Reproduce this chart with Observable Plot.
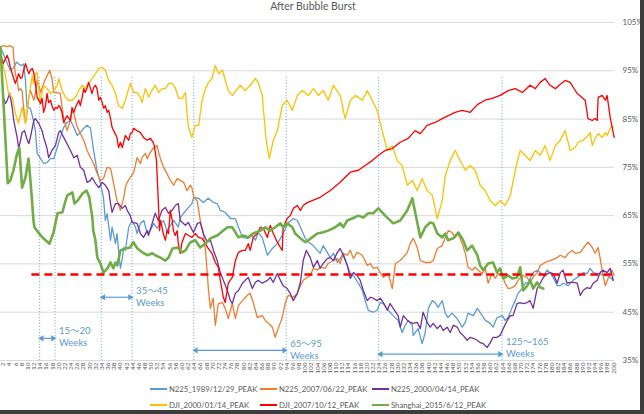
<!DOCTYPE html>
<html><head><meta charset="utf-8">
<script src="https://cdn.jsdelivr.net/npm/d3@7"></script>
<script src="https://cdn.jsdelivr.net/npm/@observablehq/plot@0.6"></script>
<style>
body{margin:0;background:#fff;}
#wrap{position:relative;width:644px;height:414px;overflow:hidden;background:#fff;font-family:Lato,"Noto Sans",sans-serif;}
#title{position:absolute;left:0;top:0;width:626px;text-align:center;font-size:10.5px;line-height:13px;color:#595959;}
#chart{position:absolute;left:0;top:14px;}
.leg{position:absolute;display:flex;align-items:center;font-size:7.7px;line-height:10px;color:#595959;white-space:nowrap;}
.leg i{display:inline-block;width:17px;margin-right:2px;}
#shR{position:absolute;left:640px;top:0;width:4px;height:414px;background:#3c3c3c;}
#shB{position:absolute;left:0;top:410px;width:644px;height:4px;background:#3c3c3c;}
</style></head>
<body>
<div id="wrap">
  <div id="title">After Bubble Burst</div>
  <div id="chart"></div>
  <div id="legend"></div>
  <div id="shR"></div><div id="shB"></div>
</div>
<script>
// ---------- data (week since peak, % of peak) ----------
const weekTicks = d3.range(2, 201, 2);
const pctTicks = [35, 45, 55, 65, 75, 85, 95, 105];

const seriesNames = ["N225_1989/12/29_PEAK","N225_2007/06/22_PEAK","N225_2000/04/14_PEAK","DJI_2000/01/14_PEAK","DJI_2007/10/12_PEAK","Shanghai_2015/6/12_PEAK"];

const n225_1989 = [[1.8,99.9],[2.9,98.2],[4.0,96.5],[5.0,95.1],[6.1,95.7],[7.0,96.8],[7.7,96.4],[8.5,96.1],[9.3,96.4],[9.9,93.0],[10.4,87.5],[11.5,87.2],[12.5,84.7],[13.1,82.6],[13.7,77.9],[14.8,76.8],[15.8,75.8],[16.9,76.0],[18.0,76.8],[19.1,76.8],[20.2,79.1],[21.2,81.2],[22.3,83.3],[23.4,84.3],[24.5,84.7],[25.6,83.3],[26.7,81.6],[27.7,82.2],[28.8,83.1],[29.9,83.7],[31.0,83.1],[32.0,78.5],[33.1,74.4],[34.2,71.7],[35.2,68.8],[35.8,64.0],[36.4,65.4],[37.5,59.9],[38.0,62.6],[39.1,59.2],[39.6,61.3],[40.1,57.8],[40.7,54.1],[41.3,56.1],[41.8,58.4],[42.3,57.8],[43.4,62.6],[44.5,64.0],[45.6,62.6],[46.1,61.3],[47.2,63.4],[48.3,64.0],[49.4,61.3],[50.4,61.9],[51.5,63.4],[52.6,62.4],[53.7,63.4],[54.7,64.0],[55.8,61.9],[56.9,63.0],[58.0,64.0],[59.5,62.6],[60.1,64.6],[61.2,65.5],[62.8,66.7],[63.9,67.5],[64.5,68.8],[66.0,68.6],[67.6,67.7],[69.2,68.6],[70.9,67.7],[72.1,67.5],[73.1,66.1],[74.7,65.7],[76.4,64.4],[78.0,64.4],[79.0,62.6],[80.3,60.5],[81.9,60.3],[83.5,60.9],[84.5,59.9],[85.4,61.5],[86.7,60.5],[88.4,56.8],[90.0,58.2],[91.6,59.2],[93.2,60.9],[94.2,62.3],[95.2,63.6],[96.8,64.4],[98.1,64.0],[99.1,62.6],[100.7,60.3],[101.7,59.5],[103.3,58.8],[104.6,57.8],[105.5,57.2],[106.5,58.8],[107.8,57.4],[108.8,56.3],[109.8,57.2],[111.1,55.3],[112.0,56.1],[113.0,57.2],[114.3,54.7],[115.3,53.0],[116.3,52.6],[117.9,51.0],[119.2,49.5],[120.1,47.4],[121.1,45.4],[122.7,45.0],[124.0,45.4],[125.0,47.0],[126.0,46.8],[127.6,45.4],[129.2,44.3],[130.8,43.3],[132.1,40.8],[133.1,42.3],[134.1,43.3],[135.4,42.3],[135.7,40.2],[137.3,41.6],[138.6,38.5],[139.6,40.8],[140.6,45.8],[141.9,47.4],[142.8,47.0],[143.8,46.0],[145.1,47.4],[146.1,44.8],[147.0,43.9],[148.3,44.8],[149.9,43.7],[151.6,41.9],[152.6,42.9],[153.5,44.8],[155.2,44.3],[156.5,45.8],[158.1,44.3],[159.1,43.3],[160.7,42.7],[161.6,41.9],[162.9,43.9],[164.6,44.3],[165.5,43.3],[166.5,43.9],[167.8,46.0],[168.8,47.4],[169.7,48.9],[171.1,49.9],[172.0,51.0],[173.0,51.2],[174.6,53.2],[175.9,53.7],[176.9,53.2],[177.9,52.6],[179.2,53.7],[180.1,53.2],[181.1,52.2],[182.4,50.5],[183.4,50.5],[184.3,51.0],[186.0,50.5],[187.6,51.6],[188.9,52.2],[189.9,52.6],[190.8,53.2],[192.1,53.0],[193.1,54.1],[194.1,53.2],[195.4,53.0],[196.3,53.0],[197.3,52.6],[198.6,52.6],[199.6,52.2],[200.6,51.6]];

const n225_2007 = [[1.8,100.0],[2.8,100.2],[4.1,100.0],[5.0,100.2],[5.9,99.8],[6.1,97.8],[6.6,94.4],[7.2,93.0],[7.7,90.9],[8.3,91.3],[8.8,90.9],[9.3,87.4],[9.9,84.1],[10.4,86.2],[11.0,89.5],[11.5,90.9],[12.1,89.9],[12.6,88.9],[13.1,90.3],[13.7,93.0],[14.8,90.5],[15.8,92.4],[16.9,94.0],[17.8,95.1],[18.5,93.4],[19.1,90.5],[20.2,90.5],[21.2,90.3],[21.8,87.4],[22.3,85.1],[23.4,82.6],[24.5,84.7],[25.0,86.8],[25.6,86.2],[26.7,83.3],[27.7,82.0],[28.8,80.6],[29.9,78.5],[31.0,77.0],[32.0,75.8],[33.1,73.9],[34.2,72.3],[35.2,72.7],[36.4,75.0],[37.5,74.8],[38.5,71.7],[39.6,68.1],[40.7,66.1],[41.8,68.8],[42.3,70.8],[42.9,71.9],[43.9,72.9],[45.0,73.9],[46.1,77.0],[47.2,75.8],[47.7,77.0],[48.8,77.9],[49.4,76.8],[50.4,78.1],[51.5,79.1],[52.6,79.5],[53.1,78.1],[53.7,76.8],[54.7,75.0],[55.8,73.7],[56.9,72.3],[58.0,71.3],[59.1,72.7],[60.1,72.3],[61.2,71.9],[62.3,70.2],[63.4,71.3],[63.9,70.8],[64.5,68.8],[65.6,68.1],[66.6,64.0],[67.6,61.3],[68.3,57.8],[68.9,53.0],[69.2,50.1],[69.9,45.8],[70.8,47.9],[71.5,42.3],[72.5,46.8],[73.8,47.0],[74.7,45.8],[75.7,43.7],[77.0,46.8],[78.0,43.7],[79.0,46.4],[80.3,47.4],[81.9,48.5],[82.8,48.9],[83.8,47.0],[85.1,43.9],[86.7,44.3],[87.7,43.3],[88.7,42.7],[90.0,41.9],[90.9,39.8],[91.9,41.6],[93.2,43.9],[94.2,47.0],[95.2,48.5],[96.8,48.1],[98.1,48.9],[99.1,50.5],[100.0,51.6],[101.3,52.2],[102.3,52.6],[103.3,54.1],[104.6,53.7],[105.5,54.3],[107.2,54.1],[108.1,55.1],[109.8,55.7],[111.1,56.1],[112.0,55.1],[113.0,57.2],[114.3,56.8],[115.3,57.8],[116.3,56.1],[117.5,57.4],[119.2,56.8],[120.8,54.7],[121.8,55.1],[122.7,54.1],[124.0,54.3],[125.0,53.2],[126.0,52.2],[127.6,53.0],[128.9,49.9],[129.9,55.1],[131.5,55.7],[132.4,56.3],[133.8,57.4],[134.7,59.2],[135.7,60.3],[137.0,58.4],[138.0,55.7],[139.6,55.3],[141.2,55.3],[142.2,55.7],[143.5,58.2],[145.1,58.8],[146.1,60.5],[147.1,61.9],[148.3,61.5],[149.3,60.5],[150.3,61.3],[151.6,59.2],[152.6,57.2],[153.5,54.3],[154.8,53.7],[155.8,54.3],[156.8,53.7],[158.1,53.0],[159.1,54.1],[160.0,51.0],[161.3,53.0],[162.3,52.0],[163.3,53.0],[164.6,52.6],[165.5,51.0],[166.5,49.9],[167.8,50.1],[168.8,50.5],[169.7,51.6],[171.1,52.6],[172.7,52.2],[173.6,51.2],[174.6,52.2],[175.9,53.2],[176.9,54.7],[178.5,55.3],[180.1,55.7],[181.8,56.1],[183.4,56.8],[185.0,56.3],[186.0,57.2],[187.3,57.8],[188.2,57.2],[189.9,57.4],[190.8,58.2],[192.4,59.5],[193.8,58.4],[194.7,57.2],[195.7,58.4],[196.3,56.3],[197.3,52.6],[198.0,50.5],[198.9,52.0],[200.2,53.7],[200.9,52.6]];

const n225_2000 = [[2.8,89.3],[3.4,88.2],[4.0,88.9],[4.8,90.3],[5.6,87.4],[6.1,84.7],[7.2,81.2],[7.7,78.9],[8.3,80.6],[8.8,82.2],[9.6,82.6],[10.2,81.2],[11.0,79.9],[11.5,81.2],[12.6,84.7],[13.1,85.1],[14.2,84.1],[15.3,82.6],[15.8,81.2],[16.9,78.9],[17.4,77.0],[18.5,78.5],[19.6,79.5],[20.7,82.2],[21.2,82.6],[22.3,81.2],[23.4,79.9],[24.5,78.5],[25.6,77.0],[26.7,77.5],[27.7,75.0],[28.8,74.4],[29.9,71.9],[31.0,72.3],[31.5,72.9],[32.6,71.7],[33.7,70.8],[34.8,71.9],[35.8,71.3],[36.9,70.2],[37.5,67.5],[38.0,65.7],[39.1,67.5],[40.1,67.5],[41.3,66.5],[42.3,67.1],[42.9,66.1],[43.9,65.0],[44.5,63.6],[46.1,63.4],[47.2,61.3],[48.2,60.5],[49.4,61.9],[49.8,60.9],[51.0,63.4],[52.0,65.5],[53.0,64.0],[54.2,66.1],[55.3,66.7],[56.3,65.5],[57.5,66.1],[58.5,67.1],[59.5,67.5],[60.1,64.0],[61.8,63.0],[62.7,63.6],[64.4,61.5],[65.7,63.4],[66.6,63.6],[67.6,61.3],[68.9,59.5],[69.9,59.9],[70.9,57.8],[72.1,55.7],[73.1,53.2],[74.1,51.6],[75.4,49.5],[76.4,47.4],[77.0,46.8],[78.0,48.9],[79.0,49.5],[80.3,51.0],[81.2,51.6],[82.2,52.2],[83.5,49.9],[84.5,51.2],[85.4,51.6],[86.7,51.0],[88.4,51.6],[89.3,52.2],[90.3,51.2],[91.6,53.0],[92.6,51.6],[93.5,50.5],[94.8,49.9],[95.8,48.9],[96.8,47.4],[98.1,48.9],[99.1,51.2],[100.0,55.7],[101.0,57.8],[102.3,56.3],[103.3,54.3],[104.6,55.7],[105.5,54.1],[106.5,55.1],[107.8,56.1],[108.8,56.3],[109.8,55.7],[111.1,57.4],[112.0,58.2],[113.0,56.8],[114.3,54.7],[115.3,52.0],[116.3,53.2],[117.5,52.6],[118.5,51.6],[119.5,49.5],[120.8,47.4],[121.8,48.1],[122.7,47.9],[124.0,47.4],[125.0,47.9],[126.0,47.0],[127.3,45.4],[128.2,46.8],[129.2,45.8],[130.8,44.3],[131.5,41.9],[132.5,44.3],[133.8,43.3],[134.7,42.9],[135.7,42.7],[137.0,42.9],[138.0,41.6],[138.9,45.0],[140.2,42.9],[141.2,41.9],[142.2,42.7],[143.5,41.6],[144.5,42.3],[145.4,41.2],[146.7,41.9],[147.7,40.8],[148.7,42.3],[150.0,41.9],[150.9,40.8],[151.9,40.2],[153.2,39.2],[154.2,39.8],[155.2,39.6],[156.5,39.2],[157.4,38.7],[158.4,38.5],[159.7,37.7],[160.7,38.7],[161.6,39.8],[162.9,39.8],[163.9,40.2],[164.9,41.6],[166.2,43.3],[167.2,44.3],[168.1,44.3],[169.4,46.8],[170.4,47.0],[171.4,46.8],[172.7,47.0],[173.6,47.4],[174.6,45.8],[175.9,49.9],[176.9,51.0],[177.9,52.2],[179.2,53.0],[180.1,53.2],[181.1,53.0],[182.4,51.0],[183.4,53.2],[184.3,53.7],[185.6,51.0],[186.6,51.2],[187.6,51.2],[188.9,51.0],[189.9,48.5],[190.8,49.5],[192.1,50.1],[193.1,49.9],[194.1,51.0],[195.4,51.6],[196.3,53.2],[197.3,53.7],[198.6,53.2],[199.6,54.1],[200.6,51.6]];

const dji_2000 = [[1.8,99.2],[2.8,95.7],[3.4,94.0],[4.4,90.3],[5.6,89.5],[6.6,86.2],[7.6,84.1],[8.8,87.4],[9.9,84.1],[11.0,89.5],[12.1,94.0],[12.5,92.4],[13.1,94.4],[13.7,94.6],[14.2,91.5],[14.8,88.2],[15.3,90.5],[15.8,92.0],[16.9,91.3],[18.0,90.3],[19.1,90.9],[20.2,92.0],[20.7,93.4],[21.8,90.9],[22.9,89.5],[23.9,88.9],[25.0,88.9],[26.1,89.5],[27.2,90.9],[28.3,92.0],[29.3,91.3],[30.4,92.4],[31.5,93.4],[32.6,94.4],[33.7,95.5],[34.8,95.7],[35.8,95.1],[36.9,93.0],[38.0,92.0],[39.1,90.3],[40.1,87.8],[41.3,87.2],[42.3,88.9],[43.4,91.3],[43.9,92.4],[45.0,90.5],[46.1,90.5],[47.2,89.5],[47.7,88.4],[48.8,91.3],[49.9,89.5],[50.9,90.9],[52.0,92.0],[53.1,90.5],[54.2,91.3],[55.3,91.3],[56.4,92.4],[57.5,92.4],[58.5,91.5],[59.6,89.3],[60.7,89.3],[61.8,90.5],[62.3,86.2],[62.8,83.3],[63.9,81.2],[65.0,83.7],[66.1,83.7],[67.2,88.9],[68.3,91.3],[69.3,92.6],[70.4,93.4],[71.5,96.1],[72.6,94.4],[73.8,95.1],[75.7,90.9],[77.0,89.9],[79.6,92.0],[81.2,90.9],[82.8,92.0],[84.5,93.4],[85.4,92.6],[86.7,89.9],[88.0,80.6],[89.0,76.8],[90.3,80.6],[91.6,82.6],[93.2,87.8],[94.8,88.9],[96.5,86.8],[98.1,89.9],[99.7,90.9],[101.7,89.9],[103.3,91.3],[104.9,89.9],[106.5,90.9],[108.1,88.9],[109.8,92.0],[112.0,89.9],[113.6,85.1],[115.3,88.9],[116.9,89.9],[119.2,88.9],[120.8,90.9],[122.4,88.9],[124.0,86.8],[125.6,82.6],[127.3,78.5],[128.9,79.5],[130.5,76.4],[132.1,75.4],[133.8,71.3],[135.4,72.3],[137.0,70.2],[138.6,72.7],[140.2,70.2],[141.9,69.2],[143.5,64.4],[145.1,68.1],[146.1,73.3],[147.7,76.4],[149.3,78.5],[150.9,76.4],[152.6,74.4],[154.2,75.4],[155.8,74.4],[157.4,71.3],[159.0,70.2],[160.7,68.1],[162.3,67.1],[163.9,68.1],[165.5,67.1],[167.2,69.2],[168.8,74.4],[170.4,78.5],[172.0,77.5],[173.6,76.4],[175.3,78.5],[176.9,77.5],[178.5,79.5],[180.1,76.4],[181.8,79.5],[183.4,80.6],[185.0,82.6],[186.6,78.5],[188.2,79.1],[189.2,80.2],[190.8,80.6],[192.4,81.6],[193.1,82.2],[193.8,79.5],[194.7,81.0],[195.7,82.0],[197.0,81.2],[198.0,82.2],[198.6,81.6],[199.6,83.1],[200.6,83.5]];

const dji_2007 = [[1.8,98.2],[2.7,96.5],[3.4,97.5],[4.0,98.2],[4.5,97.1],[5.0,95.7],[5.6,94.4],[6.1,93.4],[6.6,92.4],[7.2,93.4],[7.7,94.4],[8.3,93.4],[8.8,93.6],[9.3,95.1],[9.9,96.5],[10.4,95.5],[11.0,94.4],[11.5,95.1],[12.1,95.5],[12.6,94.6],[13.1,92.4],[13.7,89.5],[14.8,88.2],[15.3,89.3],[15.8,86.4],[16.4,87.8],[16.9,90.3],[17.4,88.4],[18.0,88.9],[18.5,87.8],[19.1,86.8],[19.6,87.4],[20.2,87.2],[20.7,87.8],[21.2,87.4],[21.8,86.2],[22.3,84.3],[22.9,85.1],[23.4,85.7],[24.5,84.7],[25.0,87.4],[25.6,86.4],[26.1,87.4],[27.2,88.9],[27.7,87.8],[28.3,89.5],[28.8,91.3],[29.3,90.5],[29.9,91.5],[30.4,92.6],[31.0,91.3],[31.5,90.3],[32.0,91.5],[32.6,92.0],[33.1,91.3],[33.7,88.9],[34.2,89.5],[34.8,88.4],[35.3,87.2],[35.8,87.8],[36.4,86.4],[36.9,86.8],[37.5,85.1],[38.0,83.3],[38.5,82.6],[39.6,81.2],[40.1,79.1],[40.7,80.2],[41.3,79.1],[42.3,81.6],[43.4,80.6],[43.9,82.0],[44.5,82.2],[45.0,83.1],[46.1,82.6],[47.2,82.2],[48.2,81.2],[49.4,80.6],[50.4,81.0],[51.3,80.2],[51.7,79.5],[52.4,76.4],[52.8,70.8],[53.4,61.9],[53.7,64.0],[54.2,62.6],[54.6,61.3],[55.3,59.9],[55.8,61.9],[56.3,61.3],[56.9,66.1],[57.5,64.0],[57.9,61.9],[58.5,60.9],[59.1,61.9],[59.5,59.2],[60.1,57.2],[60.7,59.5],[61.8,61.3],[62.8,60.9],[63.9,60.5],[65.0,61.3],[66.0,60.5],[67.2,60.3],[68.3,59.2],[69.2,58.2],[70.4,57.2],[71.5,55.3],[72.5,54.3],[73.1,51.6],[74.1,48.1],[74.7,47.0],[75.7,51.0],[77.0,52.2],[78.0,55.7],[79.0,57.4],[80.3,57.8],[81.2,57.8],[82.2,59.2],[82.8,57.8],[83.8,60.5],[85.1,61.3],[86.1,62.6],[87.1,62.3],[88.4,60.5],[89.3,63.0],[90.3,61.3],[91.6,59.5],[92.6,58.4],[93.2,57.8],[93.5,62.6],[94.8,64.4],[95.8,65.0],[96.8,66.5],[98.1,67.1],[99.1,66.1],[100.0,67.1],[101.3,67.7],[102.9,68.1],[105.5,68.8],[108.8,70.2],[112.0,71.9],[115.3,74.0],[117.9,74.4],[120.1,75.4],[122.4,76.4],[124.4,77.5],[126.6,78.5],[128.9,78.9],[131.5,80.2],[134.1,81.0],[136.3,82.6],[138.0,82.0],[140.2,83.7],[142.8,84.3],[145.1,85.1],[147.1,85.7],[149.3,86.4],[151.6,86.8],[154.2,86.4],[156.5,88.0],[159.0,88.9],[161.3,89.3],[163.9,89.9],[166.5,90.9],[168.8,91.3],[171.1,90.5],[173.6,92.0],[175.3,91.3],[176.9,92.6],[178.5,93.4],[180.1,92.0],[181.8,91.3],[183.4,92.2],[185.0,93.0],[186.6,92.6],[188.9,90.3],[191.5,88.9],[192.4,85.1],[193.8,84.7],[194.7,85.1],[195.4,84.7],[195.7,89.5],[197.0,89.9],[198.0,88.9],[198.6,89.9],[199.6,85.3],[200.9,81.2]];

const shanghai_2015 = [[1.8,99.8],[4.15,71.7],[5.0,72.3],[6.0,74.4],[7.2,77.9],[7.9,79.1],[8.8,70.8],[9.9,72.9],[10.9,76.8],[11.7,70.8],[12.5,64.0],[12.8,62.6],[14.1,61.5],[15.7,60.3],[17.7,59.2],[19.0,61.5],[20.3,65.5],[21.9,65.7],[22.9,68.1],[23.5,69.2],[25.1,69.8],[25.8,67.5],[26.8,68.1],[28.4,69.6],[29.7,70.2],[30.6,68.8],[31.6,64.6],[31.9,61.9],[32.6,59.9],[33.2,56.3],[34.2,55.1],[35.2,53.2],[36.5,54.1],[37.5,55.3],[38.4,54.1],[39.1,55.3],[39.7,54.7],[40.7,57.8],[42.3,58.2],[43.9,58.4],[44.9,59.5],[46.2,58.2],[47.8,57.4],[49.4,56.8],[51.1,57.2],[52.0,56.8],[53.7,56.3],[55.3,55.7],[56.3,56.3],[57.6,58.2],[59.2,58.4],[60.8,57.4],[61.8,57.8],[63.4,59.5],[65.0,59.9],[66.6,58.4],[68.3,59.2],[69.9,60.3],[72.1,60.9],[75.4,62.6],[77.0,62.6],[79.0,60.5],[80.6,60.9],[82.2,60.5],[83.8,61.3],[86.1,61.9],[87.7,62.6],[89.3,61.9],[90.9,62.6],[92.6,63.4],[93.5,62.6],[94.8,63.4],[96.5,62.6],[97.4,61.3],[99.1,60.3],[100.7,59.5],[101.7,59.9],[102.9,60.5],[104.6,61.3],[106.2,61.5],[108.1,61.9],[110.4,62.6],[112.0,63.4],[113.0,62.6],[114.3,64.0],[115.9,64.4],[117.9,65.0],[119.5,64.6],[121.1,65.5],[122.7,65.5],[124.4,66.5],[126.6,65.0],[129.2,63.4],[131.5,64.0],[133.8,66.1],[135.4,68.6],[138.0,60.5],[139.6,62.6],[141.2,63.6],[142.2,63.4],[143.5,61.3],[145.1,60.5],[146.1,61.3],[147.0,59.9],[148.7,60.3],[150.3,61.5],[151.9,59.9],[153.2,57.8],[154.8,58.8],[156.5,56.8],[157.4,54.7],[158.4,53.7],[160.0,55.1],[161.6,55.3],[162.9,53.2],[163.9,54.1],[164.9,52.0],[166.5,52.6],[167.8,52.0],[169.4,52.2],[170.4,54.3],[171.4,49.5],[172.7,50.5],[173.7,51.6],[174.6,49.9],[175.9,51.2],[176.9,50.1],[177.9,49.9]];

// annotation values
const markerWeeks = [15, 20, 35, 45, 65, 95, 125, 165];
const spanFrom = [15, 35, 65, 125];
const spanTo = [20, 45, 95, 165];
const spanLabels = ["15〜20", "35〜45", "65〜95", "125〜165"];
const bottomLevel = 52.8;     // % level of the red dashed line
const bottomFromWeek = 12;

// ---------- layout / style ----------
const colors = ["#5B9BD5", "#ED7D31", "#7030A0", "#FFC000", "#FF0000", "#70AD47"];
const widths = [1.3, 1.3, 1.3, 1.3, 1.3, 2.6];
const allSeries = [n225_1989, n225_2007, n225_2000, dji_2000, dji_2007, shanghai_2015];
const arrowLevel = [39.6, 48.1, 37.1, 36.3];
const labelTop = [42.3, 50.6, 39.6, 40.0];
const ruleTop = 94;
const annBlue = "#5B9BD5";

const spans = spanFrom.map((a, i) => ({a: a - 0.5, b: spanTo[i] - 0.5, y: arrowLevel[i], ty: labelTop[i], t: spanLabels[i] + "\nWeeks"}));

const chart = Plot.plot({
  width: 644, height: 366,
  marginLeft: 0, marginRight: 30, marginTop: 8, marginBottom: 20,
  x: {domain: [1.8, 201]},
  y: {domain: [35, 105]},
  style: {fontFamily: "Lato, 'Noto Sans CJK JP', sans-serif", background: "transparent", overflow: "visible"},
  marks: [
    Plot.gridY(pctTicks, {stroke: "#d9d9d9", strokeOpacity: 1, strokeWidth: 1}),
    Plot.axisY(pctTicks, {anchor: "right", tickSize: 0, tickPadding: 8, tickFormat: d => d + "%", fontSize: 8, color: "#595959", label: null}),
    Plot.axisX(weekTicks, {anchor: "bottom", tickSize: 0, tickPadding: 2, tickRotate: -90, fontSize: 6.5, dx: 2, color: "#595959", label: null}),
    Plot.ruleX(markerWeeks, {x: d => d - 0.5, y1: 35, y2: ruleTop, stroke: annBlue, strokeWidth: 0.8, strokeDasharray: "1.2,1.8"}),
    ...allSeries.map((s, i) => Plot.line(s, {x: d => d[0], y: d => d[1], stroke: colors[i], strokeWidth: widths[i], strokeLinejoin: "round"})),
    Plot.ruleY([bottomLevel], {x1: bottomFromWeek, x2: 201, stroke: "#FF0000", strokeWidth: 2.4, strokeDasharray: "8,5"}),
    Plot.link(spans, {x1: "a", x2: "b", y1: "y", y2: "y", stroke: annBlue, strokeWidth: 1.2}),
    Plot.dot(spans, {x: "a", y: "y", symbol: "triangle", r: 2.3, rotate: -90, fill: annBlue, stroke: null, dx: 2}),
    Plot.dot(spans, {x: "b", y: "y", symbol: "triangle", r: 2.3, rotate: 90, fill: annBlue, stroke: null, dx: -2}),
    Plot.text(spans, {x: "b", y: "ty", text: "t", dx: 4, textAnchor: "start", lineAnchor: "top", fontSize: 9.5, lineHeight: 1.3, fill: annBlue})
  ]
});
document.getElementById("chart").appendChild(chart);

// legend
const legCols = [150, 260, 372], legRows = [389, 405];
const legend = document.getElementById("legend");
seriesNames.forEach((name, i) => {
  const el = document.createElement("div");
  el.className = "leg";
  el.style.left = legCols[i % 3] + "px";
  el.style.top = (legRows[Math.floor(i / 3)] - 5) + "px";
  const sw = document.createElement("i");
  sw.style.height = (i === 5 ? 2.5 : 2) + "px";
  sw.style.background = colors[i];
  el.appendChild(sw);
  el.appendChild(document.createTextNode(name));
  legend.appendChild(el);
});
</script>
</body></html>
